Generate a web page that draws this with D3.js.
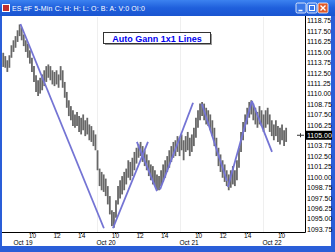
<!DOCTYPE html>
<html>
<head>
<meta charset="utf-8">
<script src="https://cdn.jsdelivr.net/npm/d3@7"></script>
<style>
  body { margin: 0; background: #fff; }
  svg { display: block; font-family: "Liberation Sans", Arial, sans-serif; }
</style>
</head>
<body>
<div id="chart"></div>
<script>
// 10-minute bars, t = trading minutes from Oct 19 08:30 (session 08:30-15:15, 405 min)
var barStart = -50, barStep = 10;
var highs = [1114.9,1114.5,1114.0,1114.6,1115.8,1116.4,1116.9,1117.6,1118.3,1117.9,
  1117.1,1116.4,1116.0,1115.2,1114.3,1113.3,1112.2,1111.6,1111.9,1112.3,
  1112.8,1113.3,1113.5,1113.3,1112.8,1112.6,1112.8,1112.3,1113.3,1112.8,
  1111.4,1110.2,1109.2,1108.5,1108.0,1107.5,1107.8,1107.3,1107.1,1107.5,
  1106.8,1107.1,1106.3,1106.1,1105.6,1105.1,1103.2,1101.0,1100.6,1100.3,
  1099.8,1098.9,1097.7,1096.0,1095.8,1097.2,1098.9,1099.6,1100.1,1100.6,
  1101.0,1102.0,1101.8,1102.3,1103.0,1103.5,1103.9,1104.2,1103.7,1103.2,
  1102.7,1102.0,1101.5,1101.3,1100.8,1100.3,1100.1,1100.8,1101.5,1102.0,
  1102.5,1103.2,1103.7,1104.2,1104.4,1104.9,1104.7,1105.1,1104.4,1104.9,
  1105.4,1104.7,1105.1,1105.9,1107.1,1108.0,1108.8,1109.0,1108.8,1108.3,
  1108.0,1107.5,1106.8,1105.9,1104.7,1103.5,1102.7,1102.0,1101.5,1100.8,
  1100.3,1100.8,1101.3,1100.8,1102.0,1103.5,1105.4,1106.6,1107.5,1108.3,
  1109.0,1109.2,1108.8,1108.3,1107.8,1108.5,1108.0,1107.5,1108.0,1108.3,
  1107.5,1106.8,1106.3,1106.8,1106.1,1105.9,1106.3,1105.6,1105.9];
var lows = [1113.2,1113.1,1112.6,1113.1,1114.3,1115.0,1115.5,1116.2,1116.9,1116.4,
  1115.7,1115.0,1114.3,1113.6,1112.6,1111.4,1110.2,1109.7,1110.0,1110.4,
  1110.9,1111.4,1111.9,1111.6,1111.1,1110.9,1111.1,1110.7,1111.6,1110.7,
  1109.5,1108.3,1107.3,1106.8,1106.1,1105.9,1106.1,1105.4,1105.1,1105.6,
  1104.9,1105.1,1104.4,1104.2,1103.7,1103.2,1100.8,1098.9,1098.4,1098.2,
  1097.7,1096.7,1095.5,1094.1,1093.9,1095.1,1096.7,1097.4,1097.9,1098.4,
  1099.1,1099.9,1099.6,1100.1,1100.8,1101.6,1102.3,1102.5,1101.8,1101.3,
  1100.8,1100.1,1099.6,1099.1,1098.9,1098.4,1098.4,1098.9,1099.4,1099.9,
  1100.6,1101.1,1101.8,1102.3,1102.5,1103.0,1102.5,1103.2,1102.0,1103.0,
  1103.2,1102.5,1103.0,1103.7,1104.7,1105.9,1106.8,1107.3,1106.8,1106.3,
  1106.1,1105.6,1104.9,1103.7,1102.5,1101.3,1100.6,1099.9,1099.4,1098.9,
  1098.4,1098.7,1099.1,1098.9,1099.6,1101.1,1103.0,1104.4,1105.4,1106.3,
  1107.1,1107.5,1106.8,1106.3,1105.9,1106.3,1106.1,1105.4,1105.9,1106.3,
  1105.4,1104.9,1104.4,1104.9,1104.2,1103.9,1104.4,1103.7,1104.2];

// Gann 1x1 lines: [t1, price1, t2, price2]
var gannLines = [
  [34, 1118.35, 441, 1093.84],
  [485, 1093.84, 656, 1104.2],
  [602, 1104.2, 700, 1098.3],
  [715, 1098.5, 876, 1108.9],
  [919, 1108.75, 1041, 1099.5],
  [1046, 1098.8, 1163, 1109.1],
  [1163, 1109.1, 1261, 1103.0]
];

var priceTicks = d3.range(0, 21).map(function (i) { return 1093.75 + i * 1.25; });
var hourTicks = [
  { t: 90, label: "10" }, { t: 210, label: "12" }, { t: 330, label: "14" },
  { t: 495, label: "10" }, { t: 615, label: "12" }, { t: 735, label: "14" },
  { t: 900, label: "10" }, { t: 1020, label: "12" }, { t: 1140, label: "14" },
  { t: 1305, label: "10" }
];
var dayLabels = [
  { t: 0, label: "Oct 19" }, { t: 405, label: "Oct 20" },
  { t: 810, label: "Oct 21" }, { t: 1215, label: "Oct 22" }
];
var lastPrice = 1105.0;
var title = "ES #F 5-Min C: H: H: L: O: B: A: V:0 OI:0";

var W = 335, H = 252;
var svg = d3.select("#chart").append("svg").attr("width", W).attr("height", H);

// window frame
svg.append("rect").attr("width", W).attr("height", H).attr("fill", "#2a5ed8");
svg.append("rect").attr("x", 2).attr("y", 16).attr("width", 329).attr("height", 230).attr("fill", "#fff");

var grad = svg.append("defs").append("linearGradient").attr("id", "tb")
  .attr("x1", 0).attr("y1", 0).attr("x2", 0).attr("y2", 1);
grad.append("stop").attr("offset", "0%").attr("stop-color", "#3c82f0");
grad.append("stop").attr("offset", "50%").attr("stop-color", "#1f5fdc");
grad.append("stop").attr("offset", "100%").attr("stop-color", "#1a55d0");
svg.append("rect").attr("width", W).attr("height", 16).attr("fill", "url(#tb)");

svg.append("rect").attr("x", 2).attr("y", 4).attr("width", 8).attr("height", 8).attr("fill", "#fff");
svg.append("rect").attr("x", 3).attr("y", 5).attr("width", 6).attr("height", 6).attr("fill", "#c03030");
svg.append("text").attr("x", 12).attr("y", 11).attr("fill", "#fff")
  .style("font-size", "7px").style("letter-spacing", "0.15px").text(title);

var buttons = [{ x: 296, c: "#3a78e8" }, { x: 307, c: "#3a78e8" }, { x: 318, c: "#e05a2a" }];
svg.selectAll(".btn").data(buttons).enter().append("rect")
  .attr("x", function (d) { return d.x; }).attr("y", 3)
  .attr("width", 10).attr("height", 10).attr("rx", 1.5)
  .attr("fill", function (d) { return d.c; }).attr("stroke", "#fff").attr("stroke-width", 0.8);
svg.append("line").attr("x1", 298.5).attr("x2", 302.5).attr("y1", 10.5).attr("y2", 10.5).attr("stroke", "#fff").attr("stroke-width", 1.5);
svg.append("rect").attr("x", 309.5).attr("y", 5.5).attr("width", 5).attr("height", 5).attr("fill", "none").attr("stroke", "#fff");
svg.append("path").attr("d", "M320.5,5.5L325.5,10.5M325.5,5.5L320.5,10.5").attr("stroke", "#fff").attr("stroke-width", 1.4);

// scales
var x = d3.scaleLinear().domain([-56, 1422]).range([2, 305]);
var y = d3.scaleLinear().domain([1093.75, 1118.75]).range([229, 20.7]);

// session separators
svg.selectAll(".sep").data(dayLabels.slice(1)).enter().append("line")
  .attr("x1", function (d) { return Math.round(x(d.t)) + 0.5; })
  .attr("x2", function (d) { return Math.round(x(d.t)) + 0.5; })
  .attr("y1", 17).attr("y2", 232)
  .attr("stroke", "#efefef").attr("stroke-width", 1);

// bars
svg.selectAll(".bar").data(highs).enter().append("line")
  .attr("x1", function (d, i) { return x(barStart + i * barStep); })
  .attr("x2", function (d, i) { return x(barStart + i * barStep); })
  .attr("y1", function (d) { return y(d); })
  .attr("y2", function (d, i) { return y(lows[i]); })
  .attr("stroke", "#676767").attr("stroke-width", 1.8);

// gann lines
svg.selectAll(".gann").data(gannLines).enter().append("line")
  .attr("x1", function (d) { return x(d[0]); })
  .attr("y1", function (d) { return y(d[1]); })
  .attr("x2", function (d) { return x(d[2]); })
  .attr("y2", function (d) { return y(d[3]); })
  .attr("stroke", "#7474d4").attr("stroke-width", 1.8);

// right price axis
var yAxis = svg.append("g").attr("transform", "translate(305,0)")
  .call(d3.axisRight(y).tickValues(priceTicks).tickSize(0).tickPadding(2)
    .tickFormat(d3.format(".2f")));
yAxis.select(".domain").remove();
yAxis.selectAll("text").style("font-size", "7px").attr("fill", "#000")
  .style("font-family", "Liberation Sans, Arial, sans-serif");
svg.append("line").attr("x1", 305.5).attr("x2", 305.5).attr("y1", 16).attr("y2", 232.5)
  .attr("stroke", "#000");

// last price marker
svg.append("rect").attr("x", 306).attr("y", y(lastPrice) - 4.5).attr("width", 26).attr("height", 9).attr("fill", "#000");
svg.append("text").attr("x", 307).attr("y", y(lastPrice) + 2.5).attr("fill", "#fff")
  .style("font-size", "7px").text(d3.format(".2f")(lastPrice));
svg.append("line").attr("x1", 297).attr("x2", 304).attr("y1", y(lastPrice)).attr("y2", y(lastPrice)).attr("stroke", "#333");
svg.append("line").attr("x1", 300.5).attr("x2", 300.5).attr("y1", y(lastPrice) - 2).attr("y2", y(lastPrice) + 2).attr("stroke", "#333");

// bottom time axis
svg.append("line").attr("x1", 2).attr("x2", 305.5).attr("y1", 232.5).attr("y2", 232.5).attr("stroke", "#000");
var xAxis = svg.append("g").attr("transform", "translate(0,232.5)")
  .call(d3.axisBottom(x).tickValues(hourTicks.map(function (d) { return d.t; }))
    .tickSize(1.5).tickPadding(0)
    .tickFormat(function (d, i) { return hourTicks[i].label; }));
xAxis.select(".domain").remove();
xAxis.selectAll("text").style("font-size", "6.5px").attr("fill", "#000")
  .attr("y", 5).attr("dy", 0);
svg.selectAll(".day").data(dayLabels).enter().append("text")
  .attr("x", function (d) { return x(d.t); }).attr("y", 245)
  .style("font-size", "6.5px").text(function (d) { return d.label; });

// legend box
svg.append("rect").attr("x", 105).attr("y", 34).attr("width", 107).attr("height", 11).attr("fill", "#999");
svg.append("rect").attr("x", 103.5).attr("y", 32.5).attr("width", 107).attr("height", 11)
  .attr("fill", "#fff").attr("stroke", "#333");
svg.append("text").attr("x", 157).attr("y", 41.5).attr("text-anchor", "middle")
  .attr("fill", "#0000ee").style("font-size", "9px").style("font-weight", "bold")
  .text("Auto Gann 1x1 Lines");
</script>
</body>
</html>
